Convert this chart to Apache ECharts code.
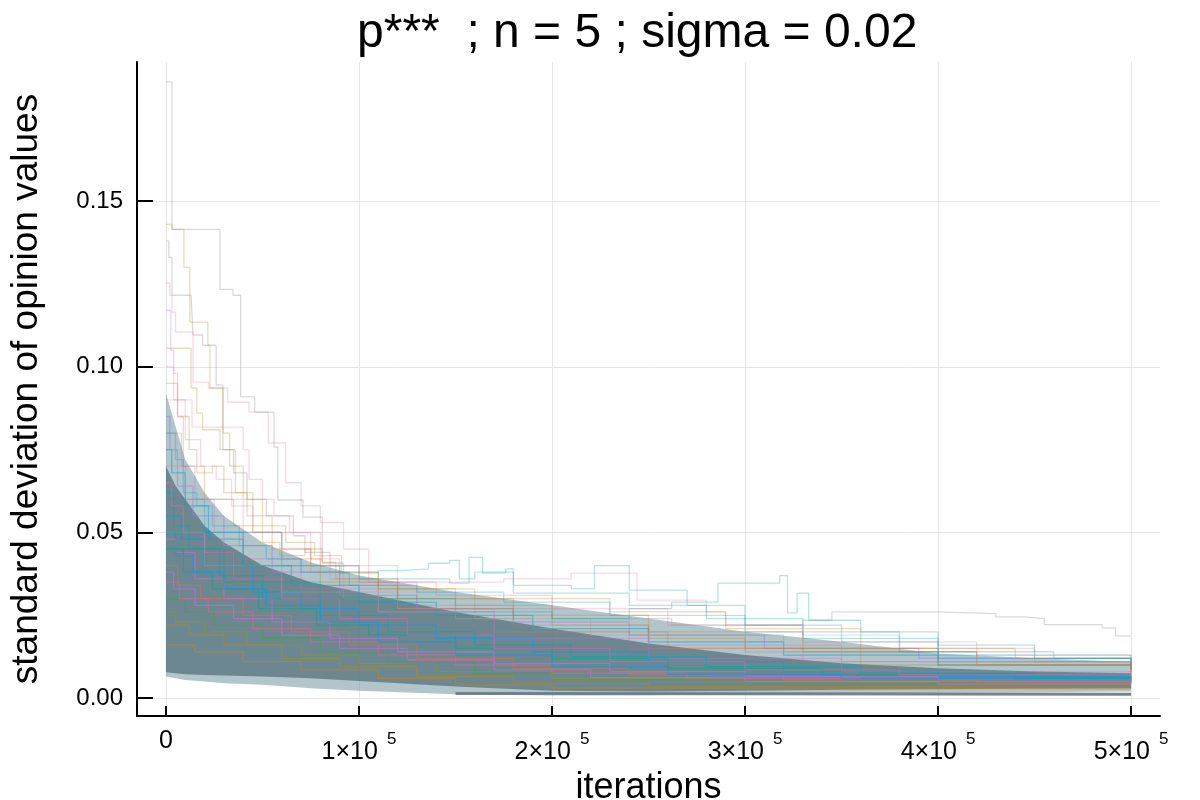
<!DOCTYPE html>
<html>
<head>
<meta charset="utf-8">
<script src="https://cdn.jsdelivr.net/npm/echarts@6/dist/echarts.min.js"></script>
<style>
html,body{margin:0;padding:0;background:#fff}
#main{width:1200px;height:800px}
</style>
</head>
<body>
<div id="main"></div>
<script>
// ticks
var xTicks = [0, 100000, 200000, 300000, 400000, 500000];
var yTicks = [0, 0.05, 0.10, 0.15];

// envelope of the dense bundle of runs (iteration -> std dev)
var bandX   = [0, 5000, 10000, 20000, 30000, 50000, 75000, 100000, 150000, 200000, 250000, 300000, 350000, 400000, 450000, 500000];
var outerLo = [0.0065, 0.006, 0.0055, 0.005, 0.0045, 0.004, 0.003, 0.0022, 0.0012, 0.0008, 0.0009, 0.0012, 0.0014, 0.0016, 0.0018, 0.002];
var outerHi = [0.092, 0.082, 0.072, 0.062, 0.055, 0.047, 0.041, 0.037, 0.032, 0.028, 0.024, 0.020, 0.017, 0.0135, 0.012, 0.011];
var coreLo  = [0.0078, 0.0075, 0.0072, 0.007, 0.0068, 0.0065, 0.006, 0.0052, 0.0035, 0.0022, 0.002, 0.0022, 0.0025, 0.0027, 0.0029, 0.003];
var coreHi  = [0.070, 0.064, 0.060, 0.052, 0.047, 0.040, 0.035, 0.032, 0.026, 0.021, 0.0165, 0.013, 0.0105, 0.009, 0.008, 0.0075];

// runs inside the bundle
var c1  = [[0,0.055],[8000,0.048],[20000,0.04],[45000,0.032],[70000,0.027],[100000,0.022],[140000,0.018],[190000,0.014],[250000,0.011],[320000,0.008],[400000,0.0065],[500000,0.0055]];
var c2  = [[0,0.04],[6000,0.034],[18000,0.03],[40000,0.025],[65000,0.02],[95000,0.016],[130000,0.012],[180000,0.009],[240000,0.007],[320000,0.0055],[420000,0.0048],[500000,0.0045]];
var c3  = [[0,0.03],[10000,0.026],[25000,0.022],[50000,0.018],[80000,0.014],[115000,0.011],[160000,0.0075],[220000,0.0055],[300000,0.0045],[400000,0.004],[500000,0.0038]];
var c4  = [[0,0.048],[5000,0.044],[15000,0.036],[30000,0.03],[55000,0.023],[85000,0.018],[120000,0.014],[170000,0.0105],[230000,0.008],[300000,0.0065],[400000,0.0055],[500000,0.005]];
var c5  = [[0,0.022],[12000,0.019],[30000,0.016],[60000,0.012],[90000,0.0095],[130000,0.0065],[180000,0.0045],[250000,0.0035],[350000,0.0033],[500000,0.0032]];
var c6  = [[0,0.062],[4000,0.052],[12000,0.045],[28000,0.037],[50000,0.03],[80000,0.025],[115000,0.02],[160000,0.016],[210000,0.0125],[280000,0.0095],[360000,0.0075],[450000,0.0065],[500000,0.006]];
var c7  = [[0,0.035],[7000,0.03],[22000,0.026],[45000,0.021],[75000,0.017],[110000,0.013],[150000,0.01],[200000,0.0075],[270000,0.006],[360000,0.005],[500000,0.0045]];
var c8  = [[0,0.016],[15000,0.014],[40000,0.011],[70000,0.0085],[110000,0.006],[150000,0.004],[200000,0.003],[300000,0.0028],[500000,0.0028]];
var c9  = [[0,0.045],[9000,0.038],[24000,0.033],[48000,0.027],[78000,0.022],[105000,0.019],[150000,0.015],[200000,0.012],[260000,0.009],[340000,0.007],[440000,0.006],[500000,0.0058]];
var c10 = [[0,0.026],[5000,0.023],[20000,0.02],[42000,0.016],[70000,0.013],[100000,0.0105],[140000,0.008],[200000,0.006],[280000,0.0048],[380000,0.0042],[500000,0.004]];
var c11 = [[0,0.075],[3000,0.068],[10000,0.058],[22000,0.048],[40000,0.04],[65000,0.034],[100000,0.029],[140000,0.025],[190000,0.021],[250000,0.017],[320000,0.013],[400000,0.01],[500000,0.0085]];
var c12 = [[0,0.085],[2000,0.075],[6000,0.064],[14000,0.055],[30000,0.046],[55000,0.038],[90000,0.031],[130000,0.027],[180000,0.023],[240000,0.019],[310000,0.015],[390000,0.012],[500000,0.01]];
var c13 = [[0,0.065],[3000,0.058],[9000,0.05],[20000,0.044],[35000,0.036],[60000,0.03],[90000,0.024],[125000,0.019],[170000,0.015],[230000,0.011],[300000,0.0085],[380000,0.007],[500000,0.0062]];
var c14 = [[0,0.05],[5000,0.043],[14000,0.038],[30000,0.033],[52000,0.028],[80000,0.023],[110000,0.017],[150000,0.013],[200000,0.0095],[260000,0.0072],[350000,0.0058],[500000,0.005]];
var c15 = [[0,0.038],[4000,0.033],[15000,0.028],[35000,0.024],[60000,0.019],[90000,0.015],[125000,0.0115],[170000,0.0085],[220000,0.0062],[300000,0.005],[400000,0.0042],[500000,0.004]];
var grayLow = [[150000,0.0014],[200000,0.0012],[500000,0.0012]];

// outlying runs
var grayA  = [[0,0.186],[3100,0.1415],[28000,0.1234],[34700,0.1216],[38700,0.0909],[46000,0.0863],[56000,0.0758],[58000,0.0598],[71000,0.0546],[81000,0.0407],[92000,0.030],[110000,0.026],[150000,0.024],[190000,0.021],[240000,0.019],[320000,0.014],[420000,0.01],[500000,0.008]];
var grayB  = [[0,0.05],[20000,0.04],[60000,0.032],[120000,0.027],[200000,0.024],[262000,0.022],[330000,0.0235],[345000,0.026],[400000,0.0255],[430000,0.0245],[445000,0.024],[455000,0.0222],[485000,0.0212],[492000,0.0188],[500000,0.0188]];
var grayC  = [[0,0.138],[1500,0.133],[3100,0.1216],[13000,0.1216],[14000,0.1096],[19000,0.1065],[26000,0.0945],[29500,0.075],[35000,0.068],[42000,0.06],[52000,0.055],[66000,0.049],[72000,0.044],[85000,0.036],[110000,0.03],[160000,0.024],[220000,0.019],[300000,0.014],[400000,0.01],[500000,0.008]];
var olive1 = [[0,0.143],[3100,0.1415],[9300,0.130],[12400,0.1135],[21700,0.1065],[22800,0.0936],[29500,0.080],[33000,0.07],[40000,0.06],[50000,0.052],[62000,0.047],[77000,0.043],[91000,0.038],[110000,0.033],[150000,0.028],[200000,0.022],[250000,0.018],[300000,0.015],[400000,0.011],[500000,0.009]];
var olive2 = [[0,0.1056],[4500,0.1056],[13000,0.0936],[16000,0.086],[19000,0.081],[28000,0.075],[36000,0.062],[45000,0.05],[60000,0.042],[80000,0.035],[120000,0.027],[180000,0.02],[260000,0.015],[360000,0.01],[500000,0.007]];
var pink1  = [[0,0.1253],[2000,0.1215],[3100,0.1165],[5000,0.1105],[14000,0.0954],[22000,0.0936],[32000,0.0893],[43000,0.0863],[53000,0.077],[62000,0.065],[70000,0.058],[80000,0.053],[92000,0.045],[105000,0.035],[130000,0.028],[180000,0.022],[250000,0.016],[350000,0.011],[500000,0.0075]];
var pink2  = [[0,0.09],[13500,0.0818],[40000,0.075],[43000,0.066],[50000,0.06],[56000,0.055],[64000,0.05],[75000,0.042],[90000,0.034],[120000,0.027],[170000,0.02],[240000,0.015],[330000,0.011],[500000,0.007]];
var pink3  = [[0,0.07],[10000,0.06],[40000,0.05],[80000,0.04],[120000,0.035],[175000,0.036],[210000,0.0377],[244000,0.0296],[280000,0.026],[290000,0.022],[330000,0.019],[380000,0.015],[450000,0.011],[500000,0.009]];
var purple1= [[0,0.117],[2500,0.105],[4000,0.098],[6000,0.085],[9000,0.07],[15000,0.06],[25000,0.05],[40000,0.042],[70000,0.033],[110000,0.026],[170000,0.018],[250000,0.012],[350000,0.008],[500000,0.005]];
var tan1   = [[0,0.08],[8000,0.07],[20000,0.06],[35000,0.052],[50000,0.047],[59000,0.043],[72000,0.045],[81000,0.041],[88000,0.036],[120000,0.03],[180000,0.025],[250000,0.02],[330000,0.014],[420000,0.01],[500000,0.008]];
var teal1  = [[0,0.045],[30000,0.035],[80000,0.03],[150000,0.026],[200000,0.024],[240000,0.027],[262000,0.029],[286000,0.0347],[318000,0.037],[322000,0.0257],[327000,0.0317],[333000,0.0235],[360000,0.02],[400000,0.016],[450000,0.012],[500000,0.011]];
var cyan1  = [[0,0.06],[20000,0.05],[60000,0.04],[90000,0.0377],[110000,0.0385],[121000,0.039],[136000,0.0407],[147000,0.0416],[152000,0.036],[160000,0.038],[180000,0.034],[210000,0.033],[222000,0.040],[240000,0.0326],[270000,0.028],[300000,0.022],[350000,0.017],[400000,0.012],[500000,0.009]];
var cyan2  = [[0,0.05],[40000,0.04],[100000,0.036],[147000,0.0347],[157000,0.0425],[164000,0.0377],[176000,0.039],[180000,0.0317],[240000,0.028],[280000,0.024],[330000,0.018],[400000,0.013],[500000,0.01]];
var pink4  = [[0,0.1],[4000,0.09],[10000,0.078],[18000,0.07],[26000,0.066],[34000,0.058],[45000,0.05],[60000,0.045],[75000,0.04],[100000,0.035],[140000,0.031],[200000,0.027],[260000,0.022],[330000,0.017],[420000,0.013],[500000,0.011]];
var tan2   = [[0,0.095],[6000,0.085],[12000,0.075],[16000,0.068],[24000,0.07],[30000,0.062],[42000,0.055],[55000,0.045],[75000,0.038],[110000,0.033],[160000,0.03],[230000,0.026],[290000,0.021],[360000,0.015],[440000,0.012],[500000,0.012]];
var cyan3  = [[0,0.08],[5000,0.072],[9000,0.062],[16000,0.058],[24000,0.052],[38000,0.046],[52000,0.042],[70000,0.038],[95000,0.034],[130000,0.032],[175000,0.029],[230000,0.025],[300000,0.02],[380000,0.014],[460000,0.012],[500000,0.0115]];

var FONT = "'Liberation Sans', Arial, sans-serif";

function run(data, color, width) {
    return {
        type: 'line', step: 'end', data: data, symbol: 'none', silent: true,
        lineStyle: { color: color, width: width || 1.3 }
    };
}
// filled region between lo and hi, drawn once through the axis scales
function band(lo, hi, fill) {
    return {
        type: 'custom', silent: true, z: 1, clip: true,
        data: bandX.map(function (x, i) { return [x, lo[i], hi[i]]; }),
        encode: { x: 0, y: [1, 2] },
        renderItem: function (params, api) {
            if (params.dataIndex !== 0) return null;
            var pts = [];
            for (var i = 0; i < bandX.length; i++) pts.push(api.coord([bandX[i], hi[i]]));
            for (var j = bandX.length - 1; j >= 0; j--) pts.push(api.coord([bandX[j], lo[j]]));
            return { type: 'polygon', shape: { points: pts }, style: { fill: fill } };
        }
    };
}

var series = [
    band(outerLo, outerHi, 'rgba(115,150,160,0.55)'),
    band(coreLo, coreHi, 'rgba(100,128,138,0.9)'),

    run(grayLow, 'rgba(110,125,135,0.95)', 3),

    run(c1,  'rgba(0,155,250,0.55)'),
    run(c2,  'rgba(227,111,71,0.55)'),
    run(c3,  'rgba(62,164,78,0.55)'),
    run(c4,  'rgba(195,113,210,0.6)'),
    run(c5,  'rgba(172,142,24,0.55)'),
    run(c6,  'rgba(0,169,173,0.55)'),
    run(c7,  'rgba(237,94,147,0.55)'),
    run(c8,  'rgba(198,129,37,0.55)'),
    run(c9,  'rgba(0,169,141,0.55)'),
    run(c10, 'rgba(142,151,29,0.55)'),
    run(c11, 'rgba(0,166,205,0.5)'),
    run(c12, 'rgba(155,127,233,0.5)'),
    run(c13, 'rgba(221,100,181,0.55)'),
    run(c14, 'rgba(0,155,250,0.55)'),
    run(c15, 'rgba(195,113,210,0.6)'),

    run(grayA,  'rgba(160,160,160,0.4)'),
    run(grayB,  'rgba(160,160,160,0.4)'),
    run(grayC,  'rgba(160,160,160,0.4)'),
    run(olive1, 'rgba(172,142,24,0.3)'),
    run(olive2, 'rgba(172,142,24,0.3)'),
    run(pink1,  'rgba(237,94,147,0.25)'),
    run(pink2,  'rgba(237,94,147,0.25)'),
    run(pink3,  'rgba(237,94,147,0.25)'),
    run(purple1,'rgba(195,113,210,0.3)'),
    run(tan1,   'rgba(198,129,37,0.3)'),
    run(teal1,  'rgba(0,169,141,0.3)'),
    run(cyan1,  'rgba(0,166,205,0.3)'),
    run(cyan2,  'rgba(0,169,173,0.3)'),
    run(pink4,  'rgba(237,94,147,0.25)'),
    run(tan2,   'rgba(198,129,37,0.3)'),
    run(cyan3,  'rgba(0,166,205,0.3)')
];

var myChart = echarts.init(document.getElementById('main'));
myChart.setOption({
    animation: false,
    backgroundColor: '#fff',
    title: {
        text: 'p***  ; n = 5 ; sigma = 0.02',
        left: 352, top: 5,
        textStyle: { fontFamily: FONT, fontSize: 48, fontWeight: 'normal', color: '#000' }
    },
    grid: { left: 137, right: 40, top: 62, bottom: 84, outerBoundsMode: 'none' },
    xAxis: {
        type: 'value', min: -15000, max: 515000,
        name: 'iterations', nameLocation: 'middle', nameGap: 46,
        nameTextStyle: { fontFamily: FONT, fontSize: 36, color: '#000' },
        axisLine: { onZero: false, lineStyle: { color: '#000', width: 2 } },
        axisTick: { inside: true, length: 10, customValues: xTicks, lineStyle: { color: '#000', width: 2 } },
        axisLabel: {
            customValues: xTicks, margin: -2, color: '#000',
            formatter: function (v) {
                if (v === 0) return '{z|0}';
                return '{b|' + Math.round(v / 100000) + '×10}{s|5}';
            },
            rich: {
                z: { fontFamily: FONT, fontSize: 25, color: '#000', padding: [15, 0, 0, 0] },
                b: { fontFamily: FONT, fontSize: 25, color: '#000', padding: [26, 0, 0, 0] },
                s: { fontFamily: FONT, fontSize: 17, color: '#000', padding: [0, 0, 0, 9] }
            }
        },
        splitLine: { show: true, lineStyle: { color: '#e6e6e6', width: 1 } }
    },
    yAxis: {
        type: 'value', min: -0.0054, max: 0.192,
        name: 'standard deviation of opinion values', nameLocation: 'middle', nameGap: 92,
        nameTextStyle: { fontFamily: FONT, fontSize: 37, color: '#000' },
        axisLine: { show: true, onZero: false, lineStyle: { color: '#000', width: 2 } },
        axisTick: { show: true, inside: true, length: 16, customValues: yTicks, lineStyle: { color: '#000', width: 2 } },
        axisLabel: {
            customValues: yTicks, margin: 14, color: '#000',
            fontFamily: FONT, fontSize: 24,
            formatter: function (v) { return v.toFixed(2); }
        },
        splitLine: { show: true, lineStyle: { color: '#e6e6e6', width: 1 } }
    },
    series: series
});
</script>
</body>
</html>
